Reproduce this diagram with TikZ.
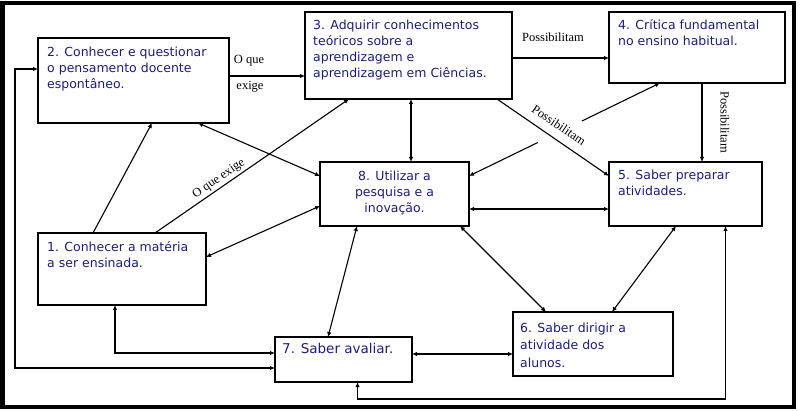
\documentclass[tikz,border=0pt]{standalone}
\usepackage{fontspec}
\setmainfont{DejaVu Sans}
\newfontfamily\lblfont{Liberation Serif}
\usetikzlibrary{arrows.meta,calc}
\definecolor{navy}{RGB}{28,28,125}
\begin{document}
\begin{tikzpicture}[x=1pt,y=-1pt,
  box/.style={draw=black, line width=1.2pt, anchor=north west, inner sep=0pt, outer sep=0pt},
  txt/.style={anchor=base west, align=left, inner sep=0pt, text=navy, font=\fontsize{12.5}{16}\selectfont},
  lbl/.style={font=\lblfont\fontsize{12.5}{13}\selectfont, inner sep=1pt},
  link/.style={line width=1.1pt},
  one/.style={link, -{Latex[length=5pt,width=4.5pt]}},
  both/.style={link, {Latex[length=5pt,width=4.5pt]}-{Latex[length=5pt,width=4.5pt]}}]
\useasboundingbox (0,0) rectangle (800,411);
\draw[line width=4.5pt] (2.5,3) rectangle (794,407);

% boxes
\node[box, minimum width=191pt, minimum height=85pt] (n2) at (38,38) {};
\node[box, minimum width=207pt, minimum height=87pt] (n3) at (305,12) {};
\node[box, minimum width=176pt, minimum height=71pt] (n4) at (609,12) {};
\node[box, minimum width=149pt, minimum height=64pt] (n8) at (320,162) {};
\node[box, minimum width=153pt, minimum height=64pt] (n5) at (609,162) {};
\node[box, minimum width=168pt, minimum height=72pt] (n1) at (38,233) {};
\node[box, minimum width=137pt, minimum height=45pt] (n7) at (275,337) {};
\node[box, minimum width=160pt, minimum height=64pt] (n6) at (513,312) {};

% texts (base anchor = baseline of the last line)
\node[txt] (t2) at (47,89) {2. Conhecer e questionar\\o pensamento docente\\espontâneo.};
\node[txt] (t3) at (313,78) {3. Adquirir conhecimentos\\teóricos sobre a\\aprendizagem e\\aprendizagem em Ciências.};
\node[txt] (t4) at (618,46) {4. Crítica fundamental\\no ensino habitual.};
\node[txt] (t5) at (618,196) {5. Saber preparar\\atividades.};
\node[txt, anchor=base, align=center] (t8) at (394.5,213) {8. Utilizar a\\pesquisa e a\\inovação.};
\node[txt] (t1) at (47,268) {1. Conhecer a matéria\\a ser ensinada.};
\node[txt, font=\fontsize{13.5}{16}\selectfont] (t7) at (282,353) {7. Saber avaliar.};
\node[txt, font=\fontsize{12.5}{17.5}\selectfont] (t6) at (520,367) {6. Saber dirigir a\\atividade dos\\alunos.};

% connectors
\draw[one] ([yshift=4.5pt]n2.east) -- ([yshift=-20.5pt]n3.west);
\draw[one] ([yshift=-2.5pt]n3.east) -- ([yshift=-10.5pt]n4.west);
\draw[one] ([xshift=88.5pt]n3.south) -- ([yshift=18pt]n5.west);
\draw[one] ([xshift=5pt]n4.south) -- ([xshift=16.5pt]n5.north);
\draw[one] ([xshift=-29pt]n1.north) -- ([xshift=18.5pt]n2.south);
\draw[one] ([xshift=33pt]n1.north) -- ([xshift=-59.5pt]n3.south);
\draw[both] ([xshift=64.5pt]n2.south) -- ([yshift=18pt]n8.west);
\draw[both] ([xshift=2.5pt]n3.south) -- ([xshift=16.5pt]n8.north);
\draw[both] ([yshift=12pt]n1.east) -- ([yshift=-12pt]n8.west);
\draw[both, dash pattern=on 72pt off 49pt on 300pt] ([yshift=18pt]n8.east) -- ([xshift=-37pt]n4.south);
\draw[both] ([yshift=-15pt]n5.west) -- ([yshift=-15pt]n8.east);
\draw[both] ([xshift=-37.5pt]n8.south) -- ([xshift=-15.5pt]n7.north);
\draw[both] ([xshift=65.5pt]n8.south) -- ([xshift=-47pt]n6.north);
\draw[both] ([xshift=-9.5pt]n5.south) -- ([xshift=19pt]n6.north);
\draw[both] ([yshift=5.5pt]n7.east) -- ([yshift=-10pt]n6.west);
\draw[both] ([xshift=-7pt]n1.south) |- ([yshift=6.5pt]n7.west);
\draw[both] ([yshift=11.5pt]n2.west) -- ++(-23,0) |- ([yshift=-8.5pt]n7.west);
\draw[both] ([xshift=14pt]n7.south) -- ++(0,17) -| ([xshift=40pt]n5.south);

% labels
\node[lbl] (lq) at (249,61) {O que};
\node[lbl] (le) at (250,87) {exige};
\node[lbl] (lp1) at (553,37) {Possibilitam};
\node[lbl, rotate=-34] (lp2) at (559,125) {Possibilitam};
\node[lbl, rotate=-90] (lp3) at (725,122) {Possibilitam};
\node[lbl, rotate=34.5] (lq2) at (219,179) {O que exige};
\end{tikzpicture}
\end{document}
